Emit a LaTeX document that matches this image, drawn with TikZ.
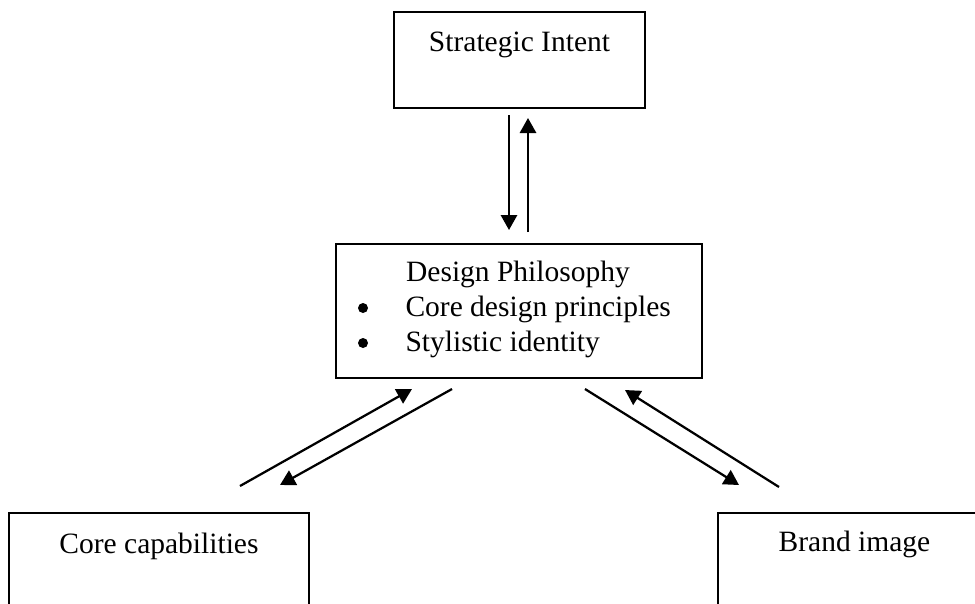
\documentclass[tikz,border=0pt]{standalone}
\usepackage{fontspec}
\setmainfont{Liberation Serif}
\usepackage{tikz}
\usetikzlibrary{positioning,calc,arrows.meta}

\tikzset{
  box/.style={draw, line width=0.8pt, inner sep=0pt, anchor=north west},
  link/.style={->, line width=0.9pt},
  dot/.style={circle, fill, inner sep=0pt, minimum size=4pt},
}

\begin{document}
\begin{tikzpicture}[x=0.4pt, y=-0.4pt, >={Triangle[length=6pt,width=6.5pt]}, font=\fontsize{11.8}{13.8}\selectfont]
        \useasboundingbox (0,0) rectangle (975,603);

        % boxes
        \node[box, minimum width=100.4pt, text height=15.6pt, text depth=22.8pt] (intent) at (393,11) {Strategic Intent};
        \node[box, minimum width=146.4pt, minimum height=53.6pt] (design) at (335,243) {};
        \node[box, minimum width=120pt, text height=16pt, text depth=48pt] (core) at (8,512) {Core capabilities};
        \node[box, minimum width=109.2pt, text height=15.2pt, text depth=48pt] (brand) at (717,512) {Brand image};

        % text of the middle box
        \node[anchor=base, inner sep=0pt] (title) at (518,281) {Design Philosophy};
        \node[dot] (dotA) at (363,308) {};
        \node[anchor=base west, inner sep=0pt] (itemA) at (405,316) {Core design principles};
        \node[dot] (dotB) at (363,343) {};
        \node[anchor=base west, inner sep=0pt] (itemB) at (405,351) {Stylistic identity};

        % arrow ends
        \coordinate (downS) at (509,115);  \coordinate (downE) at (509,230);
        \coordinate (upS) at (528,232);    \coordinate (upE) at (528,118);
        \coordinate (leftS) at (240,486);  \coordinate (leftE) at (412,389);
        \coordinate (leftT) at (452,389);  \coordinate (leftB) at (280,485);
        \coordinate (rightS) at (585,389); \coordinate (rightE) at (739,485);
        \coordinate (rightT) at (779,487); \coordinate (rightB) at (625,390);

        \draw[link] (downS) -- (downE);
        \draw[link] (upS) -- (upE);
        \draw[link] (leftS) -- (leftE);
        \draw[link] (leftT) -- (leftB);
        \draw[link] (rightS) -- (rightE);
        \draw[link] (rightT) -- (rightB);
    \end{tikzpicture}
\end{document}
